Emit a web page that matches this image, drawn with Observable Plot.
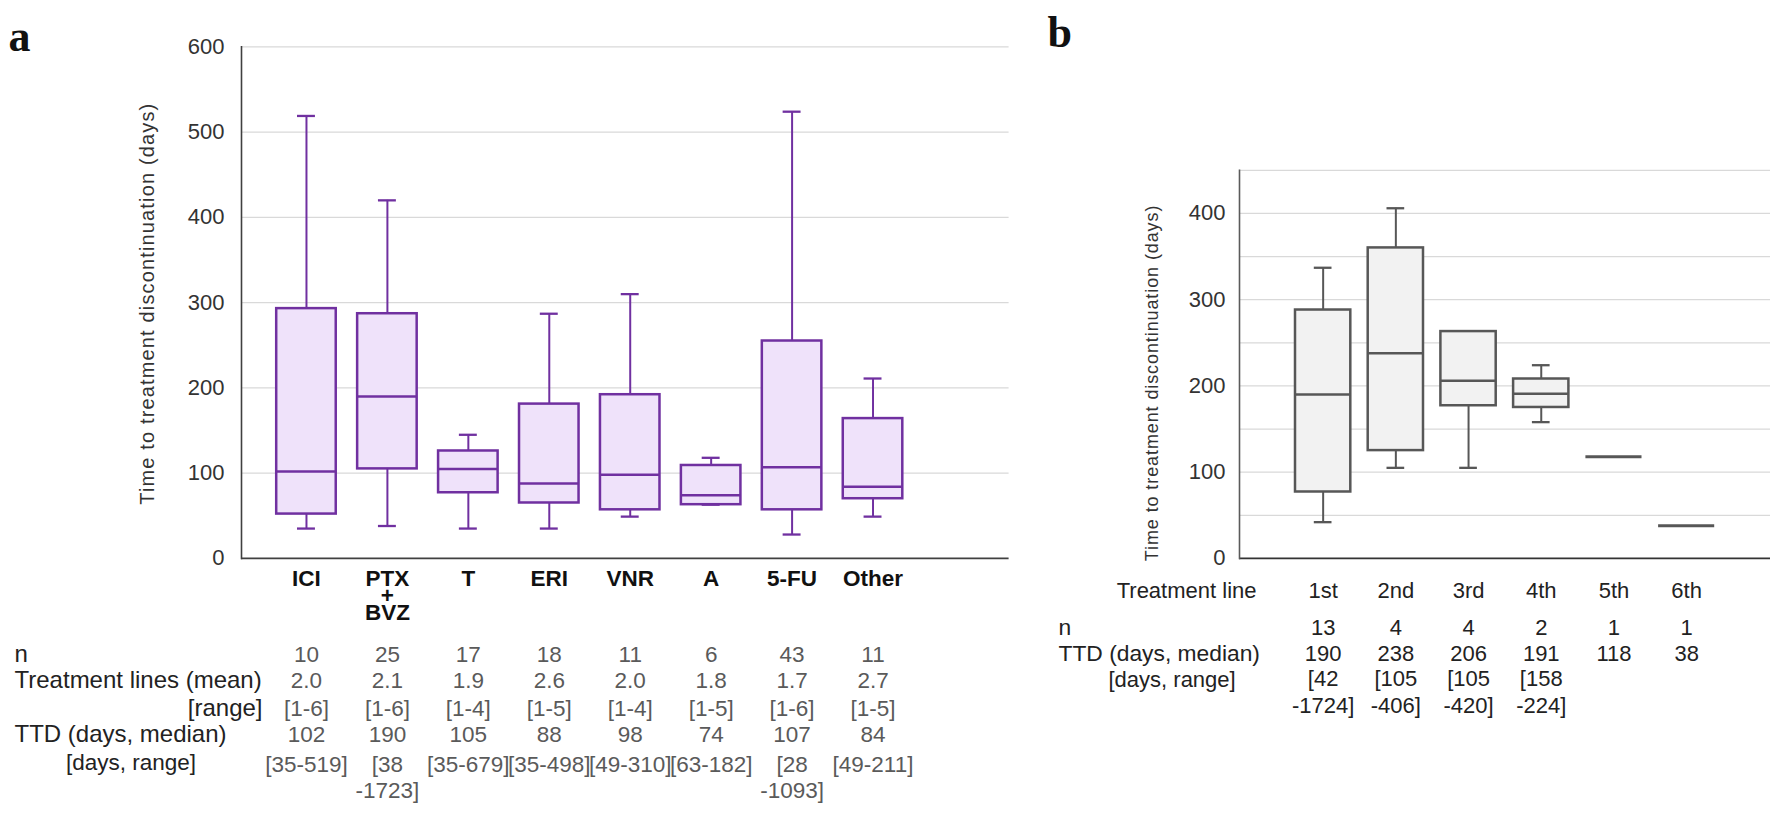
<!DOCTYPE html>
<html><head><meta charset="utf-8">
<script src="https://cdn.jsdelivr.net/npm/d3@7"></script>
<script src="https://cdn.jsdelivr.net/npm/@observablehq/plot@0.6"></script>
<style>
body{margin:0;background:#fff;}
#wrap{position:relative;width:1772px;height:818px;overflow:hidden;background:#fff}
#wrap svg{position:absolute;top:0;}
</style></head><body><div id="wrap"></div>
<script>
// ---------- Panel a data ----------
const catsA = ["ICI", "PTX\n+\nBVZ", "T", "ERI", "VNR", "A", "5-FU", "Other"];
const lowA  = [35, 38, 35, 35, 49, 63, 28, 49];
const q1A   = [52, 105, 77, 65, 57, 63, 57, 70];
const q3A   = [293, 287, 126, 181, 192, 109, 255, 164];
const highA = [519, 420, 145, 287, 310, 118, 524, 211];
const nA = [10, 25, 17, 18, 11, 6, 43, 11];
const linesMeanA = ["2.0", "2.1", "1.9", "2.6", "2.0", "1.8", "1.7", "2.7"];
const linesRangeA = ["[1-6]", "[1-6]", "[1-4]", "[1-5]", "[1-4]", "[1-5]", "[1-6]", "[1-5]"];
const ttdMedianA = [102, 190, 105, 88, 98, 74, 107, 84];
const ttdRangeA = ["[35-519]", "[38\n-1723]", "[35-679]", "[35-498]", "[49-310]", "[63-182]", "[28\n-1093]", "[49-211]"];
const ticksA = [0, 100, 200, 300, 400, 500, 600];
const gridA = [100, 200, 300, 400, 500, 600];
const rowLabelsA = ["n", "Treatment lines (mean)", "[range]", "TTD (days, median)", "[days, range]"];

// ---------- Panel b data ----------
const linesB = ["1st", "2nd", "3rd", "4th", "5th", "6th"];
const lowB  = [42, 105, 105, 158, 118, 38];
const q1B   = [77, 125, 177, 175, 118, 38];
const q3B   = [288, 360, 263, 208, 118, 38];
const highB = [337, 406, 263, 224, 118, 38];
const nB = [13, 4, 4, 2, 1, 1];
const ttdMedianB = [190, 238, 206, 191, 118, 38];
const ttdRangeB = ["[42\n-1724]", "[105\n-406]", "[105\n-420]", "[158\n-224]", "", ""];
const ticksB = [0, 100, 200, 300, 400];
const gridB = [50, 100, 150, 200, 250, 300, 350, 400, 450];
const rowLabelsB = ["Treatment line", "n", "TTD (days, median)", "[days, range]"];

const yTitle = "Time to treatment discontinuation (days)";

// ---------- styling ----------
const FB = "Liberation Sans, Arial, Helvetica, sans-serif";
const FS = "Liberation Serif, Times New Roman, serif";
const purple = "#7030A0", lav = "#EFE2FA";
const grayS = "#575757", grayF = "#F2F2F2";
const H = 818;
const topDy = (center, base, fs, L) => center - base - (0.71 * L - 0.358) * fs;

// ---------- Panel a ----------
const WA = 1010;
const mA = {left: 241, right: 1.4, top: 46.4, bottom: 260.1};
const baseA = H - mA.bottom;
const boxA = catsA.map((c, i) => ({cat: c, lo: lowA[i], q1: q1A[i], med: ttdMedianA[i], q3: q3A[i], hi: highA[i],
  n: nA[i], lm: linesMeanA[i], lr: linesRangeA[i], tr: ttdRangeA[i]}));

const valA = {x: "cat", frameAnchor: "bottom", fontSize: 22.5, fill: "#5a5a5a", fontFamily: FB};
const labA = {frameAnchor: "bottom-left", textAnchor: "start", fontSize: 24, fill: "#222", fontFamily: FB};
const rowYA = [661.8, 687.7, 715.7, 741.7, 769];

const plotA = Plot.plot({
  width: WA, height: H,
  marginLeft: mA.left, marginRight: mA.right, marginTop: mA.top, marginBottom: mA.bottom,
  style: {fontFamily: FB, fontSize: "22px", color: "#333", background: "transparent", overflow: "visible"},
  x: {type: "band", domain: catsA, range: [265.5, 913.0], padding: 0, round: false, axis: null},
  y: {domain: [0, 600], axis: null},
  marks: [
    Plot.ruleY(gridA, {stroke: "#d9d9d9", strokeWidth: 1.3}),
    Plot.ruleX(boxA, {x: "cat", y1: "q3", y2: "hi", stroke: purple, strokeWidth: 2}),
    Plot.ruleX(boxA, {x: "cat", y1: "lo", y2: "q1", stroke: purple, strokeWidth: 2}),
    Plot.tickY(boxA, {x: "cat", y: "hi", stroke: purple, strokeWidth: 2.3, insetLeft: 31.5, insetRight: 31.5}),
    Plot.tickY(boxA, {x: "cat", y: "lo", stroke: purple, strokeWidth: 2.3, insetLeft: 31.5, insetRight: 31.5}),
    Plot.barY(boxA, {x: "cat", y1: "q1", y2: "q3", fill: lav, stroke: purple, strokeWidth: 2.5, insetLeft: 10.7, insetRight: 10.7}),
    Plot.tickY(boxA, {x: "cat", y: "med", stroke: purple, strokeWidth: 2.5, insetLeft: 10.7, insetRight: 10.7}),
    Plot.ruleY([0], {stroke: "#404040", strokeWidth: 1.6}),
    Plot.frame({anchor: "left", stroke: "#404040", strokeWidth: 1.6}),
    Plot.axisY(ticksA, {tickSize: 0, tickPadding: 17, fontSize: 22, fill: "#333", label: null}),
    Plot.text([yTitle], {frameAnchor: "left", textAnchor: "middle", dx: -94, dy: 1, rotate: -90, fontSize: 20, fill: "#333"}),
    Plot.text(["a"], {frameAnchor: "top-left", textAnchor: "start", lineAnchor: "bottom", dx: -233, dy: 3.6, fontFamily: FS, fontWeight: "bold", fontSize: 44, fill: "#111"}),
    // category labels
    Plot.text(boxA, {x: "cat", text: "cat", frameAnchor: "bottom", lineAnchor: "top", lineHeight: 0.76, fontSize: 22.5, fontWeight: "bold", fill: "#111",
      dy: topDy(577.2, baseA, 22.5, 0.76)}),
    // table values
    Plot.text(boxA, {...valA, text: "n", dy: rowYA[0] - baseA}),
    Plot.text(boxA, {...valA, text: "lm", dy: rowYA[1] - baseA}),
    Plot.text(boxA, {...valA, text: "lr", dy: rowYA[2] - baseA}),
    Plot.text(boxA, {...valA, text: "med", dy: rowYA[3] - baseA}),
    Plot.text(boxA, {...valA, text: "tr", lineAnchor: "top", lineHeight: 1.17, dy: topDy(763.3, baseA, 22.5, 1.17)}),
    // row labels
    Plot.text([rowLabelsA[0]], {...labA, dx: 14 - mA.left, dy: rowYA[0] - baseA}),
    Plot.text([rowLabelsA[1]], {...labA, dx: 14 - mA.left, dy: rowYA[1] - baseA}),
    Plot.text([rowLabelsA[2]], {...labA, textAnchor: "end", dx: 262 - mA.left, dy: rowYA[2] - baseA}),
    Plot.text([rowLabelsA[3]], {...labA, dx: 14 - mA.left, dy: rowYA[3] - baseA}),
    Plot.text([rowLabelsA[4]], {...labA, fontSize: 22.5, dx: 65.5 - mA.left, dy: rowYA[4] - baseA})
  ]
});

// ---------- Panel b ----------
const offB = 1000;
const mB = {left: 239, right: 2, top: 169.8, bottom: 260.1};
const baseB = H - mB.bottom;
const boxB = linesB.map((c, i) => ({cat: c, lo: lowB[i], q1: q1B[i], med: ttdMedianB[i], q3: q3B[i], hi: highB[i],
  n: nB[i], tr: ttdRangeB[i]}));
const boxesB = boxB.filter(d => d.n > 1);
const singlesB = boxB.filter(d => d.n === 1);

const valB = {x: "cat", frameAnchor: "bottom", fontSize: 22, fill: "#222", fontFamily: FB};
const labB = {frameAnchor: "bottom-left", textAnchor: "start", fontSize: 22, fill: "#222", fontFamily: FB};
const rowYB = [597.5, 634.9, 660.1, 686.2];

const plotB = Plot.plot({
  width: 1772 - offB, height: H,
  marginLeft: mB.left, marginRight: mB.right, marginTop: mB.top, marginBottom: mB.bottom,
  style: {fontFamily: FB, fontSize: "22px", color: "#333", background: "transparent", overflow: "visible"},
  x: {type: "band", domain: linesB, range: [286.3, 722.5], padding: 0, round: false, axis: null},
  y: {domain: [0, 450], axis: null},
  marks: [
    Plot.ruleY(gridB, {stroke: "#d9d9d9", strokeWidth: 1.3}),
    Plot.ruleX(boxesB, {x: "cat", y1: "q3", y2: "hi", stroke: grayS, strokeWidth: 2}),
    Plot.ruleX(boxesB, {x: "cat", y1: "lo", y2: "q1", stroke: grayS, strokeWidth: 2}),
    Plot.tickY(boxesB.filter(d => d.hi > d.q3), {x: "cat", y: "hi", stroke: grayS, strokeWidth: 2.3, insetLeft: 27.5, insetRight: 27.5}),
    Plot.tickY(boxesB, {x: "cat", y: "lo", stroke: grayS, strokeWidth: 2.3, insetLeft: 27.5, insetRight: 27.5}),
    Plot.barY(boxesB, {x: "cat", y1: "q1", y2: "q3", fill: grayF, stroke: grayS, strokeWidth: 2.5, insetLeft: 8.7, insetRight: 8.7}),
    Plot.tickY(boxesB, {x: "cat", y: "med", stroke: grayS, strokeWidth: 2.5, insetLeft: 8.7, insetRight: 8.7}),
    Plot.tickY(singlesB, {x: "cat", y: "med", stroke: grayS, strokeWidth: 3, insetLeft: 8.3, insetRight: 8.3}),
    Plot.ruleY([0], {stroke: "#333", strokeWidth: 1.6}),
    Plot.frame({anchor: "left", stroke: "#5a5a5a", strokeWidth: 1.6}),
    Plot.axisY(ticksB, {tickSize: 0, tickPadding: 14, fontSize: 22, fill: "#333", label: null}),
    Plot.text([yTitle], {frameAnchor: "left", textAnchor: "middle", dx: -87, dy: 18.6, rotate: -90, fontSize: 18, fill: "#333"}),
    Plot.text(["b"], {frameAnchor: "top-left", textAnchor: "start", lineAnchor: "bottom", dx: 1047 - offB - mB.left, dy: 46 - mB.top, fontFamily: FS, fontWeight: "bold", fontSize: 44, fill: "#111"}),
    // category labels
    Plot.text(boxB, {...valB, text: "cat", dy: rowYB[0] - baseB}),
    // table values
    Plot.text(boxB, {...valB, text: "n", dy: rowYB[1] - baseB}),
    Plot.text(boxB, {...valB, text: "med", dy: rowYB[2] - baseB}),
    Plot.text(boxB, {...valB, text: "tr", lineAnchor: "top", lineHeight: 1.25, dy: topDy(677.2, baseB, 22, 1.25)}),
    // row labels
    Plot.text([rowLabelsB[0]], {...labB, textAnchor: "end", dx: 1256 - offB - mB.left, dy: rowYB[0] - baseB}),
    Plot.text([rowLabelsB[1]], {...labB, fontSize: 22.8, dx: 1058 - offB - mB.left, dy: rowYB[1] - baseB}),
    Plot.text([rowLabelsB[2]], {...labB, fontSize: 22.8, dx: 1058 - offB - mB.left, dy: rowYB[2] - baseB}),
    Plot.text([rowLabelsB[3]], {...labB, dx: 1108 - offB - mB.left, dy: rowYB[3] - baseB})
  ]
});

const wrap = document.getElementById("wrap");
plotA.style.left = "0px";
plotB.style.left = offB + "px";
wrap.appendChild(plotA);
wrap.appendChild(plotB);
d3.select(plotA).selectAll("text").filter(function () { return this.textContent === yTitle; })
  .style("letter-spacing", "1.15px");
d3.select(plotB).selectAll("text").filter(function () { return this.textContent === yTitle; })
  .style("letter-spacing", "0.9px");
</script></body></html>
